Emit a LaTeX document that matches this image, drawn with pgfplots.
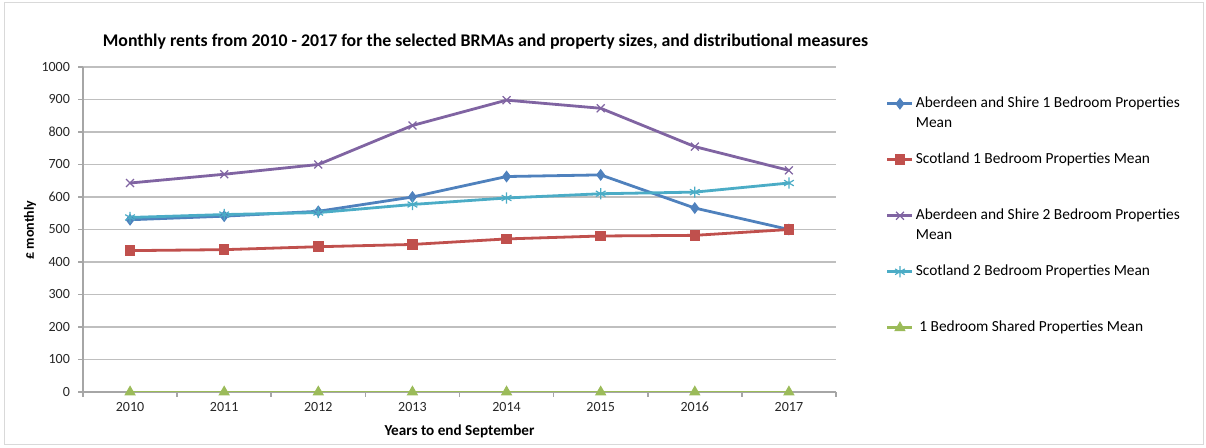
\documentclass[border=0pt]{standalone}
\usepackage{pgfplots}
\pgfplotsset{compat=1.18}
\usepackage{fontspec}
\setmainfont{Carlito}
\definecolor{cblue}{HTML}{4F81BD}
\definecolor{cred}{HTML}{C0504D}
\definecolor{cgreen}{HTML}{9BBB59}
\definecolor{cpurple}{HTML}{8064A2}
\definecolor{caqua}{HTML}{4BACC6}
\definecolor{gridgray}{HTML}{BFBFBF}
\definecolor{axisgray}{HTML}{A6A6A6}
\begin{document}
\begin{tikzpicture}
\path[use as bounding box] (0,0) rectangle (603pt,-224pt);
\draw[gray!30, line width=0.5pt] (2pt,-1.5pt) rectangle (601.5pt,-222.5pt);
\begin{axis}[
  at={(41.5pt,-33.5pt)}, anchor=north west,
  scale only axis, width=376.5pt, height=162.5pt,
  xmin=-0.5, xmax=7.5, ymin=0, ymax=1000,
  ytick={0,100,...,1000},
  xtick={-0.5,0.5,...,7.5}, xticklabels={},
  extra x ticks={0,1,2,3,4,5,6,7},
  extra x tick labels={2010,2011,2012,2013,2014,2015,2016,2017},
  extra x tick style={major tick length=0pt, grid=none},
  ymajorgrids, grid style={draw=gridgray, line width=0.8pt},
  axis lines*=left,
  axis line style={-, draw=axisgray, line width=0.8pt},
  tick style={draw=axisgray, line width=0.8pt},
  tick align=outside, major tick length=2.5pt,
  /pgf/number format/assume math mode=true,
  /pgf/number format/1000 sep={},
  ticklabel style={font=\fontsize{7}{8}\selectfont, text=black!85},
  yticklabel style={xshift=-0.5pt},
  xticklabel style={yshift=-1.5pt},
  xlabel={\bfseries Years to end September},
  xlabel style={font=\fontsize{7.6}{8}\selectfont, yshift=3pt},
  legend cell align=left,
  legend style={at={(1.058,0.925)}, anchor=north west, draw=none, fill=none,
    font=\fontsize{7.7}{10}\selectfont,
    nodes={text height=5pt, text depth=12pt, inner sep=1pt},
    row sep=9pt},
  legend image code/.code={\draw[mark repeat=2,mark phase=2,yshift=5.5pt] plot coordinates {(0pt,0pt) (6.25pt,0pt) (12.5pt,0pt)};},
  every axis plot/.append style={line width=1.4pt},
]
\addplot[color=cblue, mark=diamond*, mark size=2.6pt, mark options={solid, line width=0.5pt}]
  coordinates {(0,530) (1,541) (2,556) (3,600) (4,663) (5,668) (6,566) (7,500)};
\addlegendentry{\begin{tabular}[t]{@{}l@{}}Aberdeen and Shire 1 Bedroom Properties\\Mean\end{tabular}}
\addplot[color=cred, mark=square*, mark size=2.4pt, mark options={solid, line width=0.5pt}]
  coordinates {(0,435) (1,438) (2,447) (3,454) (4,471) (5,480) (6,482) (7,500)};
\addlegendentry{Scotland 1 Bedroom Properties Mean}
\addplot[color=cpurple, mark=x, mark size=2.8pt, mark options={solid, line width=0.6pt}]
  coordinates {(0,643) (1,670) (2,700) (3,820) (4,898) (5,873) (6,755) (7,682)};
\addlegendentry{\begin{tabular}[t]{@{}l@{}}Aberdeen and Shire 2 Bedroom Properties\\Mean\end{tabular}}
\addplot[color=caqua, mark=asterisk, mark size=2.8pt, mark options={solid, line width=0.6pt}]
  coordinates {(0,537) (1,546) (2,552) (3,577) (4,597) (5,610) (6,615) (7,643)};
\addlegendentry{Scotland 2 Bedroom Properties Mean}
\addplot[color=cgreen, mark=triangle*, mark size=2.8pt, mark options={solid, line width=0.5pt}]
  coordinates {(0,0) (1,0) (2,0) (3,0) (4,0) (5,0) (6,0) (7,0)};
\addlegendentry{\ 1 Bedroom Shared Properties Mean}
\end{axis}
\node[font=\fontsize{8.9}{10}\selectfont\bfseries] at (242.75pt,-21pt) {Monthly rents from 2010 - 2017 for the selected BRMAs and property sizes, and distributional measures};
\node[font=\fontsize{7}{8}\selectfont\bfseries, rotate=90] at (15pt,-115pt) {£ monthly};
\end{tikzpicture}
\end{document}
